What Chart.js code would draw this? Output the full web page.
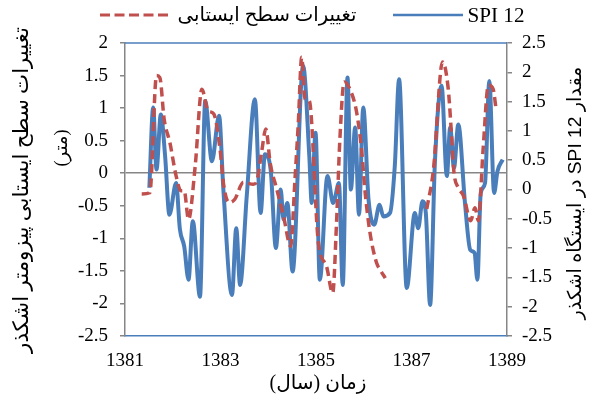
<!DOCTYPE html>
<html>
<head>
<meta charset="utf-8">
<script src="https://cdn.jsdelivr.net/npm/chart.js@4.4.1/dist/chart.umd.min.js"></script>
<style>
  html, body { margin: 0; padding: 0; background: #fff; }
</style>
</head>
<body>
<canvas id="chart" width="599" height="407"></canvas>
<script>
// SPI 12 (right axis)
const spiYears = [1381.51, 1381.59, 1381.66, 1381.75, 1381.84, 1381.93, 1382.07, 1382.15, 1382.24, 1382.33,
  1382.42, 1382.57, 1382.68, 1382.82, 1382.97, 1383.06, 1383.24, 1383.33, 1383.41, 1383.55,
  1383.72, 1383.84, 1383.93, 1384.05, 1384.16, 1384.26, 1384.32, 1384.40, 1384.51, 1384.73,
  1384.86, 1384.91, 1384.99, 1385.08, 1385.24, 1385.36, 1385.48, 1385.56, 1385.66, 1385.73,
  1385.82, 1385.90, 1385.99, 1386.10, 1386.22, 1386.33, 1386.41, 1386.55, 1386.65, 1386.74,
  1386.90, 1387.07, 1387.14, 1387.23, 1387.30, 1387.39, 1387.49, 1387.63, 1387.74, 1387.81,
  1387.89, 1387.98, 1388.12, 1388.23, 1388.32, 1388.38, 1388.45, 1388.54, 1388.63, 1388.73,
  1388.80, 1388.91];
const spiValues = [0.03, 1.40, 0.34, 1.28, 0.57, -0.43, 0.11, -0.68, -0.97, -1.54,
  -0.54, -1.83, 1.51, 0.48, 1.26, 0.00, -1.80, -0.66, -1.63, -0.11,
  1.54, -0.40, 0.60, 0.34, -1.00, 0.00, -0.51, -0.23, -1.40, 2.11,
  0.57, -0.23, 0.97, -1.54, 0.23, -0.23, 0.11, -1.63, 1.91, 0.00,
  1.06, -0.43, 1.40, -0.17, -0.60, -0.26, -0.46, -0.40, 0.40, 1.88,
  -1.68, -0.40, -0.66, -0.20, -0.40, -1.97, 0.46, 1.77, 0.23, 1.06,
  0.37, 1.11, -0.23, -1.03, -1.08, -1.54, -0.06, 0.11, 1.85, -0.06,
  0.31, 0.51];

// water table change (left axis), null = missing
const levelYears = [1381.35, 1381.52, 1381.66, 1381.73, 1381.82, 1381.94, 1382.07, 1382.17, 1382.24, 1382.33,
  1382.47, 1382.61, 1382.74, 1382.86, 1382.99, 1383.07, 1383.18, 1383.30, 1383.48, 1383.69,
  1383.76, 1383.86, 1383.95, 1384.04, 1384.18, 1384.32, 1384.47, 1384.56, 1384.63, 1384.70,
  1384.77, 1384.86, 1385.05, 1385.22, 1385.35, 1385.43, 1385.50, 1385.59, 1385.71, 1385.85,
  1385.96, 1386.03, 1386.13, 1386.27, 1386.34, 1386.45, 1386.90, 1387.32, 1387.46, 1387.65,
  1387.77, 1387.84, 1387.89, 1387.98, 1388.09, 1388.24, 1388.33, 1388.40, 1388.50, 1388.61,
  1388.71, 1388.77];
const levelValues = [-0.32, -0.30, 1.50, 1.47, 0.83, 0.47, -0.04, -0.27, -0.27, -0.71,
  0.11, 1.29, 0.96, 0.91, 0.37, -0.20, -0.45, -0.40, -0.14, -0.17,
  -0.12, 0.32, 0.68, 0.16, -0.25, -0.66, -1.12, -0.09, 0.78, 1.78,
  1.14, 1.11, -1.07, -1.43, -1.84, -0.76, 0.52, 1.40, 1.29, 0.94,
  0.32, -0.30, -0.91, -1.38, -1.48, -1.61, null, -0.55, 0.06, 1.71,
  1.29, 0.57, 0.01, -0.22, -0.35, -0.73, -0.53, -0.73, 0.37, 1.35,
  1.29, 0.99];

const yearTicks = [1381, 1383, 1385, 1387, 1389];

const levelLabel = 'تغییرات سطح ایستابی';
const spiLabel = 'SPI 12';
const leftTitle = 'تغییرات سطح ایستابی پیزومتر اشکذر';
const leftUnit = '(متر)';
const rightTitle = 'مقدار SPI 12 در ایستگاه اشکذر';
const xTitle = 'زمان (سال)';

const BLUE = '#4a7ebb';
const RED = '#c0504d';
const AXIS = '#868686';
const SERIF = "'Liberation Serif', 'DejaVu Sans', serif";
const SANS = "'Liberation Sans', 'DejaVu Sans', sans-serif";

function fitSize(ctx, text, family, target, base) {
  ctx.font = base + 'px ' + family;
  const w = ctx.measureText(text).width;
  return Math.max(10, Math.min(base * 1.3, base * target / w));
}

function drawText(ctx, text, x, y, family, target, base, rot, rtl) {
  const size = fitSize(ctx, text, family, target, base);
  ctx.save();
  ctx.translate(x, y);
  if (rot) ctx.rotate(rot);
  ctx.font = size + 'px ' + family;
  ctx.fillStyle = '#000';
  ctx.textAlign = 'center';
  ctx.textBaseline = 'middle';
  ctx.direction = rtl ? 'rtl' : 'ltr';
  ctx.fillText(text, 0, 0);
  ctx.restore();
}

const decor = {
  id: 'decor',
  beforeDraw(chart) {
    const ctx = chart.ctx;
    ctx.save();
    ctx.fillStyle = '#fff';
    ctx.fillRect(0, 0, chart.width, chart.height);
    ctx.restore();
  },
  beforeDatasetsDraw(chart) {
    const ctx = chart.ctx;
    const a = chart.chartArea;
    ctx.save();
    ctx.strokeStyle = BLUE;
    ctx.lineWidth = 1.5;
    ctx.beginPath();
    ctx.moveTo(a.left, a.top);
    ctx.lineTo(a.right, a.top);
    ctx.stroke();
    ctx.restore();
  },
  afterDraw(chart) {
    const ctx = chart.ctx;
    // legend
    ctx.save();
    ctx.lineWidth = 3;
    ctx.strokeStyle = RED;
    ctx.setLineDash([10, 4.5]);
    ctx.beginPath();
    ctx.moveTo(100, 15);
    ctx.lineTo(172, 15);
    ctx.stroke();
    ctx.setLineDash([]);
    ctx.lineWidth = 2.5;
    ctx.strokeStyle = BLUE;
    ctx.beginPath();
    ctx.moveTo(393, 15);
    ctx.lineTo(463, 15);
    ctx.stroke();
    ctx.restore();
    drawText(ctx, levelLabel, 267, 16, SERIF, 179, 19, 0, true);
    drawText(ctx, spiLabel, 496, 16, SERIF, 57, 19, 0, false);
    // axis titles
    drawText(ctx, leftTitle, 22, 190, SERIF, 326, 19, -Math.PI / 2, true);
    drawText(ctx, leftUnit, 62, 148, SERIF, 37, 19, -Math.PI / 2, true);
    drawText(ctx, rightTitle, 576, 193, SANS, 253, 17, -Math.PI / 2, true);
    drawText(ctx, xTitle, 318, 384, SERIF, 97, 19, 0, true);
  }
};

const tickFont = { family: SERIF, size: 19 };
const numLabel = v => String(Math.round(v * 10) / 10);

new Chart(document.getElementById('chart'), {
  type: 'line',
  data: {
    datasets: [
      {
        label: levelLabel,
        data: levelYears.map((x, i) => ({ x: x, y: levelValues[i] })),
        yAxisID: 'y',
        borderColor: RED,
        borderWidth: 3.5,
        borderDash: [9, 5],
        pointRadius: 0,
        fill: false,
        spanGaps: false,
        cubicInterpolationMode: 'monotone'
      },
      {
        label: spiLabel,
        data: spiYears.map((x, i) => ({ x: x, y: spiValues[i] })),
        yAxisID: 'y2',
        borderColor: BLUE,
        borderWidth: 4,
        pointRadius: 0,
        fill: false,
        cubicInterpolationMode: 'monotone'
      }
    ]
  },
  options: {
    responsive: false,
    animation: false,
    devicePixelRatio: 1,
    layout: { padding: { top: 43, left: 0, right: 0, bottom: 0 } },
    plugins: { legend: { display: false }, tooltip: { enabled: false } },
    scales: {
      x: {
        type: 'linear',
        min: 1381,
        max: 1389,
        afterBuildTicks: s => { s.ticks = yearTicks.map(v => ({ value: v })); },
        afterFit: s => { s.height = 71; },
        grid: { drawOnChartArea: false, drawTicks: false },
        border: { color: BLUE, width: 1.5 },
        ticks: { font: tickFont, color: '#000', padding: 14, maxRotation: 0, autoSkip: false, callback: v => String(v) }
      },
      y: {
        position: 'left',
        min: -2.5,
        max: 2,
        afterFit: s => { s.width = 125; },
        grid: {
          color: c => (c.tick && c.tick.value === 0 ? AXIS : 'rgba(0,0,0,0)'),
          lineWidth: 1.5,
          tickColor: AXIS,
          tickLength: 5
        },
        border: { color: AXIS, width: 1.5 },
        ticks: { stepSize: 0.5, font: tickFont, color: '#000', padding: 12, callback: numLabel }
      },
      y2: {
        position: 'right',
        min: -2.5,
        max: 2.5,
        afterFit: s => { s.width = 92; },
        grid: { drawOnChartArea: false, tickColor: AXIS, tickLength: 5, lineWidth: 1.5 },
        border: { color: AXIS, width: 1.5 },
        ticks: { stepSize: 0.5, font: tickFont, color: '#000', padding: 10, callback: numLabel }
      }
    }
  },
  plugins: [decor]
});
</script>
</body>
</html>
